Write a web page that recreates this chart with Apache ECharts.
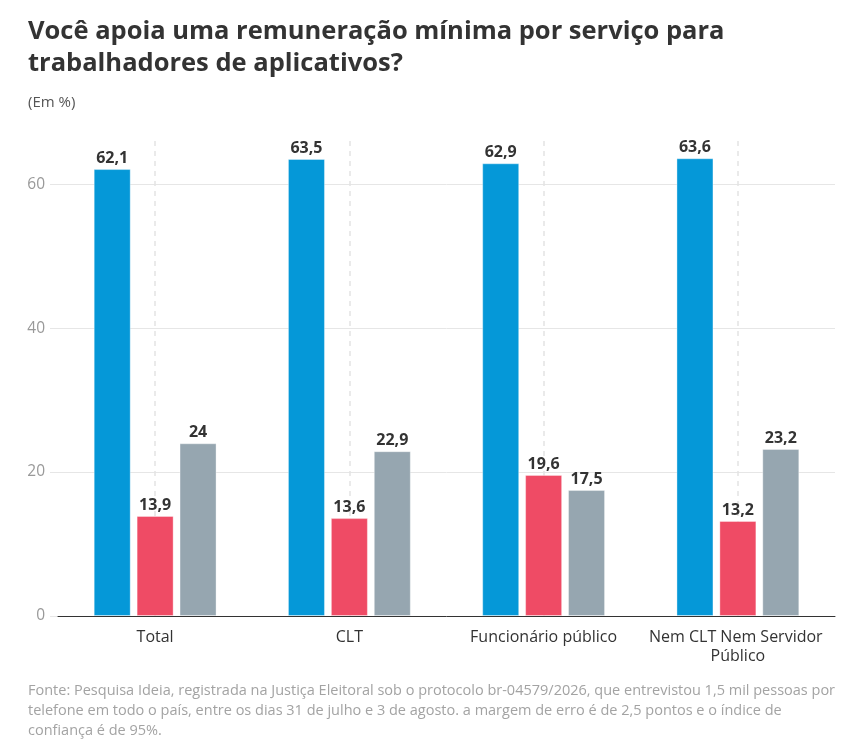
<!DOCTYPE html>
<html>
<head>
<meta charset="utf-8">
<script src="https://cdn.jsdelivr.net/npm/echarts@6/dist/echarts.min.js"></script>
<style>
  html, body { margin: 0; padding: 0; background: #fff; }
  #chart { width: 862px; height: 747px; }
</style>
</head>
<body>
<div id="chart"></div>
<script>
// dados da pesquisa
const categorias = ['Total', 'CLT', 'Funcionário público', 'Nem CLT Nem Servidor Público'];
const sim = [62.1, 63.5, 62.9, 63.6];
const nao = [13.9, 13.6, 19.6, 13.2];
const naoSabe = [24, 22.9, 17.5, 23.2];
const yTicks = [0, 20, 40, 60];

const fonte = 'Fonte: Pesquisa Ideia, registrada na Justiça Eleitoral sob o protocolo br-04579/2026, que entrevistou 1,5 mil pessoas por\n' +
    'telefone em todo o país, entre os dias 31 de julho e 3 de agosto. a margem de erro é de 2,5 pontos e o índice de\n' +
    'confiança é de 95%.';

const FONT = '"Open Sans", sans-serif';

function virgula (v) {
    return String(v).replace('.', ',');
}

function serie (name, data, color) {
    return {
        name: name,
        type: 'bar',
        data: data,
        barWidth: 37,
        barGap: '16%',
        itemStyle: {
            color: color,
            borderColor: 'rgba(255,255,255,0.35)',
            borderWidth: 1
        },
        label: {
            show: true,
            position: 'top',
            distance: 3,
            fontFamily: FONT,
            fontSize: 16,
            fontWeight: 'bold',
            color: '#333',
            formatter: p => virgula(p.value)
        }
    };
}

// linhas tracejadas no centro de cada categoria (0.5, 1.5, ...)
const dashColors = [];
for (let i = 0; i <= categorias.length * 2; i++) {
    dashColors.push(i % 2 ? '#e3e3e3' : 'rgba(0,0,0,0)');
}

const myChart = echarts.init(document.getElementById('chart'));
const option = {
    animation: false,
    backgroundColor: '#fff',
    title: [
        {
            text: 'Você apoia uma remuneração mínima por serviço para\ntrabalhadores de aplicativos?',
            left: 28,
            top: 16,
            padding: 0,
            textStyle: {
                fontFamily: FONT,
                fontSize: 25.5,
                fontWeight: 'bold',
                color: '#333',
                lineHeight: 32
            }
        },
        {
            text: '(Em %)',
            left: 28,
            top: 95,
            padding: 0,
            textStyle: {
                fontFamily: FONT,
                fontSize: 15,
                fontWeight: 'normal',
                color: '#555'
            }
        }
    ],
    graphic: [
        {
            type: 'text',
            left: 28,
            top: 681,
            style: {
                text: fonte,
                fontFamily: FONT,
                fontSize: 14.5,
                lineHeight: 20,
                fill: '#a3a3a3'
            }
        }
    ],
    grid: {
        left: 58,
        right: 27,
        top: 141,
        bottom: 131
    },
    xAxis: [
        {
            type: 'category',
            data: categorias,
            axisLine: { lineStyle: { color: '#333', width: 1 } },
            axisTick: { show: false },
            axisLabel: {
                fontFamily: FONT,
                fontSize: 16,
                color: '#333',
                margin: 12,
                lineHeight: 19,
                width: 190,
                overflow: 'break',
                interval: 0
            },
            z: 3
        },
        {
            type: 'value',
            min: 0,
            max: categorias.length,
            interval: 0.5,
            show: true,
            axisLine: { show: false },
            axisTick: { show: false },
            axisLabel: { show: false },
            splitLine: {
                show: true,
                lineStyle: { type: [5, 5], color: dashColors, width: 1.5 }
            }
        }
    ],
    yAxis: {
        type: 'value',
        min: yTicks[0],
        max: 66,
        interval: 20,
        axisLine: { show: false },
        axisTick: {
            show: true,
            length: 8,
            customValues: yTicks,
            lineStyle: { color: '#e6e6e6' }
        },
        axisLabel: {
            fontFamily: FONT,
            fontSize: 15.5,
            color: '#999',
            margin: 13,
            customValues: yTicks
        },
        splitLine: {
            lineStyle: {
                color: ['#e6e6e6', '#e6e6e6', '#e6e6e6', '#e6e6e6', 'rgba(0,0,0,0)'],
                width: 1
            }
        }
    },
    series: [
        serie('Sim', sim, '#0598d8'),
        serie('Não', nao, '#ef4b65'),
        serie('Não sabe', naoSabe, '#96a6b0')
    ]
};
myChart.setOption(option);
</script>
</body>
</html>
